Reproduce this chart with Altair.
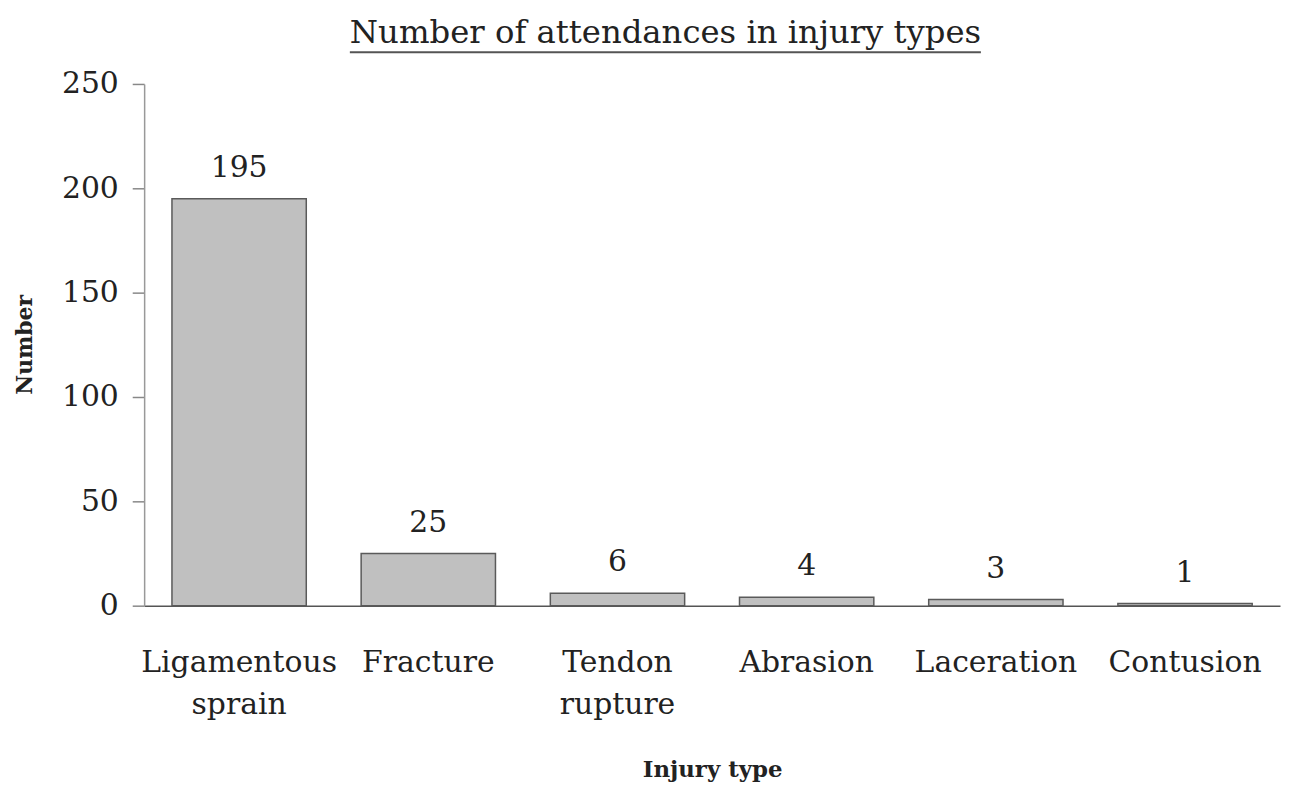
import altair as alt
import pandas as pd

categories = ["Ligamentous sprain", "Fracture", "Tendon rupture", "Abrasion", "Laceration", "Contusion"]
counts = [195, 25, 6, 4, 3, 1]
y_ticks = [0, 50, 100, 150, 200, 250]

df = pd.DataFrame({"Injury type": categories, "Number": counts})

FONT = "DejaVu Serif"
TEXT = "#222222"

x_enc = alt.X(
    "Injury type:N",
    sort=categories,
    scale=alt.Scale(paddingInner=0.29, paddingOuter=0.147),
    axis=alt.Axis(
        title="Injury type",
        titleFont=FONT,
        titleFontSize=23,
        titleFontWeight="bold",
        titleColor=TEXT,
        titleY=165,
        titleBaseline="middle",
        labelFont=FONT,
        labelFontSize=30,
        labelColor=TEXT,
        labelAngle=0,
        labelPadding=42,
        labelBaseline="top",
        labelLineHeight=43,
        labelLimit=400,
        labelExpr="split(datum.label, ' ')",
        ticks=False,
        domainColor="#555555",
        domainWidth=1.5,
    ),
)

y_enc = alt.Y(
    "Number:Q",
    scale=alt.Scale(domain=[0, 250], nice=False),
    axis=alt.Axis(
        title="Number",
        titleFont=FONT,
        titleFontSize=22,
        titleFontWeight="bold",
        titleColor=TEXT,
        titleAngle=-90,
        titleX=-120,
        titleY=262,
        titleBaseline="middle",
        titleAlign="center",
        values=y_ticks,
        labelFont=FONT,
        labelFontSize=30,
        labelColor=TEXT,
        labelPadding=14,
        tickSize=12,
        tickColor="#888888",
        tickWidth=1.5,
        domainColor="#999999",
        domainWidth=1.5,
        grid=False,
    ),
)

bars = alt.Chart(df).mark_bar(
    color="#c0c0c0", stroke="#5a5a5a", strokeWidth=1.5
).encode(x=x_enc, y=y_enc)

labels = alt.Chart(df).mark_text(
    font=FONT, fontSize=30, color=TEXT, baseline="alphabetic", dy=-22
).encode(x=alt.X("Injury type:N", sort=categories), y="Number:Q", text="Number:Q")

underline = alt.Chart(df.head(1)).mark_rule(color="#555555", strokeWidth=2).encode(
    x=alt.value(207), x2=alt.value(842), y=alt.value(-32)
)

chart = alt.layer(bars, labels, underline).properties(
    width=1143,
    height=525,
    title=alt.TitleParams(
        text="Number of attendances in injury types",
        font=FONT,
        fontSize=32.5,
        fontWeight="normal",
        color=TEXT,
        anchor="start",
        frame="group",
        dx=207,
        dy=34,
        offset=10,
        baseline="alphabetic",
    ),
    autosize=alt.AutoSizeParams(type="none"),
    padding={"left": 137, "top": 74, "right": 2, "bottom": 176},
).configure_view(stroke=None)

chart.save("out.html", embed_options={"renderer": "svg", "actions": False})
